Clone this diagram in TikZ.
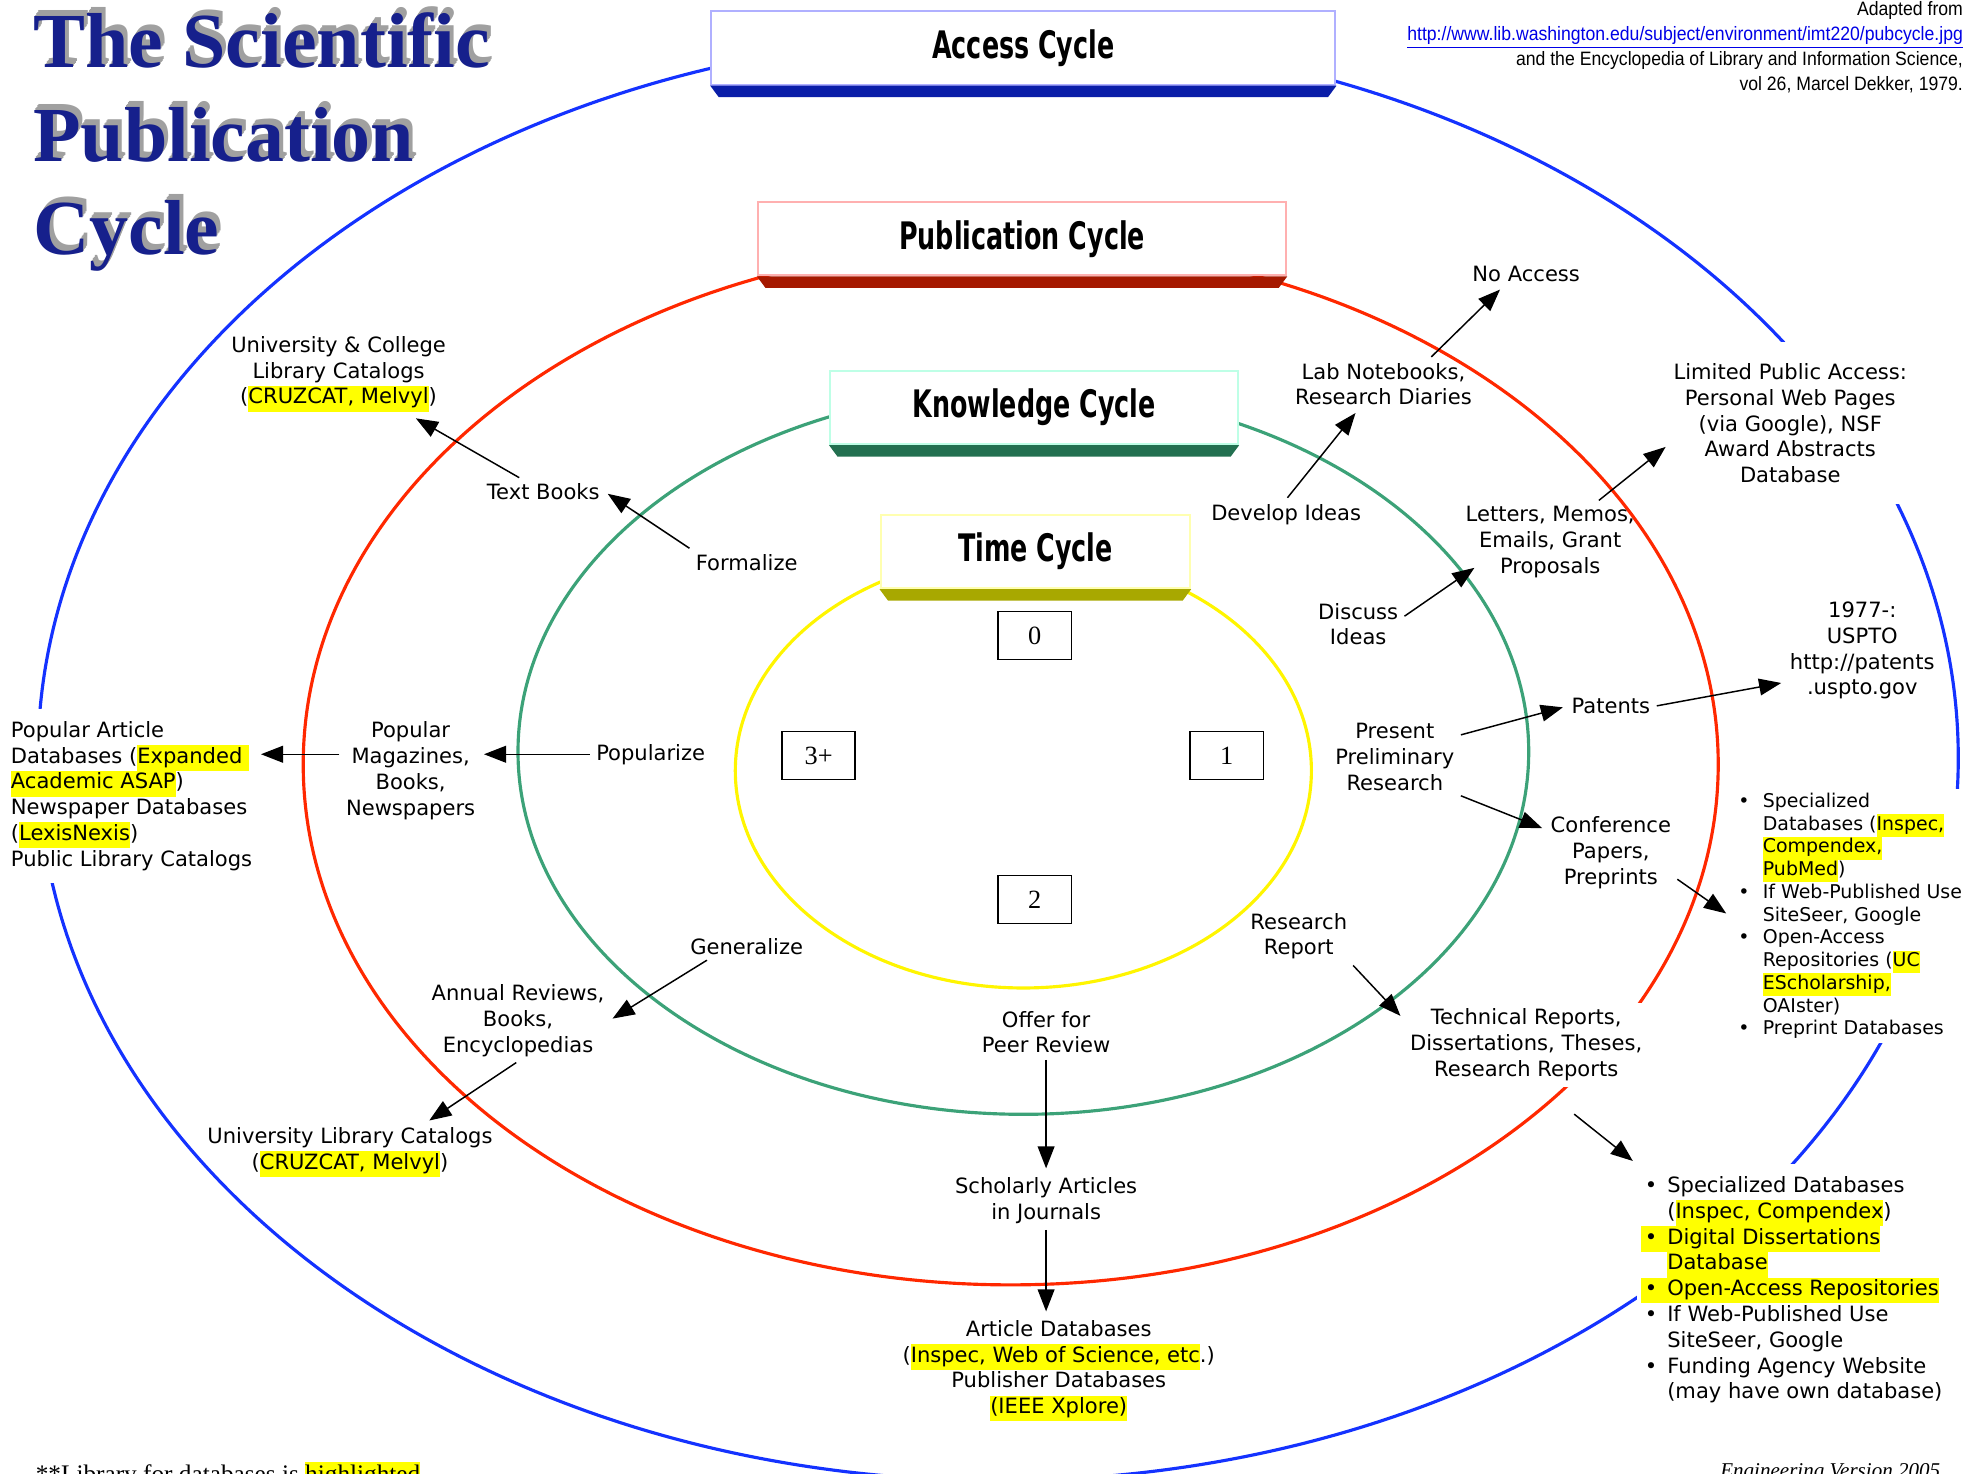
\documentclass[tikz,border=0pt]{standalone}
\usepackage{fontspec}
\setmainfont{DejaVu Sans}
\newfontfamily\timesfont{Liberation Serif}
\newfontfamily\cyclefont{DejaVu Sans}[FakeStretch=0.67]
\newfontfamily\arialfont{Liberation Sans}[FakeStretch=0.91]
\usepackage{xcolor}
\usetikzlibrary{arrows.meta, positioning}
\definecolor{accblue}{RGB}{20,50,255}
\definecolor{pubred}{RGB}{255,40,0}
\definecolor{knowgreen}{RGB}{60,162,120}
\definecolor{timeyellow}{RGB}{255,245,0}
\definecolor{accbox}{RGB}{176,176,255}
\definecolor{pubbox}{RGB}{255,176,176}
\definecolor{knowbox}{RGB}{190,255,230}
\definecolor{timebox}{RGB}{255,255,176}
\definecolor{accbar}{RGB}{10,30,168}
\definecolor{pubbar}{RGB}{165,25,0}
\definecolor{knowbar}{RGB}{35,112,80}
\definecolor{timebar}{RGB}{168,168,0}
\definecolor{hlyellow}{RGB}{255,255,0}
\definecolor{titleblue}{RGB}{22,32,140}
\definecolor{shadowgray}{RGB}{160,160,160}
\definecolor{urlblue}{RGB}{0,0,230}
\newcommand{\hlt}[1]{{\setlength{\fboxsep}{0pt}\colorbox{hlyellow}{\strut #1}}}
\newcommand{\bul}[1]{\makebox[#1][l]{\hspace{2pt}\textbullet}}
\tikzset{
    lbl/.style = {align=center, inner sep=2pt, font=\fontsize{10}{12.24}\selectfont},
    blk/.style = {lbl, fill=white},
    banner/.style = {rectangle, fill=white, line width=1pt, minimum height=34.8pt,
                     font=\cyclefont\bfseries\fontsize{18}{20}\selectfont},
    yearbox/.style = {rectangle, draw, line width=0.8pt, minimum width=34.8pt,
                      minimum height=22.8pt, font=\timesfont\fontsize{12.5}{14}\selectfont},
    ttl/.style = {align=left, inner sep=0pt, anchor=north west,
                  font=\timesfont\bfseries\fontsize{37}{44.4}\selectfont}
    }
\begin{document}
\begin{tikzpicture}[x=0.6pt, y=-0.6pt,
      > = {Triangle[length=10.5pt,width=8pt]}, % arrow head style
      every edge/.style = {draw, ->, line width=0.7pt, shorten >=2pt, shorten <=1pt}
    ]

    \useasboundingbox (0,0) rectangle (1568,1166);
    \clip (0,0) rectangle (1568,1166);

    \draw[accblue, line width=1.5pt] (790,600) ellipse [x radius=456pt, y radius=343.2pt];
    \draw[pubred, line width=1.5pt] (800,605) ellipse [x radius=336pt, y radius=247.2pt];
    \draw[knowgreen, line width=1.5pt] (810,595) ellipse [x radius=240pt, y radius=172.2pt];
    \draw[timeyellow, line width=1.5pt] (810,610) ellipse [x radius=136.8pt, y radius=103.2pt];

    \node[banner, draw=accbox, minimum width=296.4pt] (a1) at (810,38) {Access Cycle};
    \node[banner, draw=pubbox, minimum width=250.8pt] (a2) at (809,189) {Publication Cycle};
    \node[banner, draw=knowbox, minimum width=193.8pt] (a3) at (818.5,322.5) {Knowledge Cycle};
    \node[banner, draw=timebox, minimum width=147pt] (a4) at (819.5,436.5) {Time Cycle};
    \foreach \n/\c in {a1/accbar, a2/pubbar, a3/knowbar, a4/timebar}
      \fill[\c] (\n.south west) -- (\n.south east) -- ([xshift=-4pt,yshift=-5.4pt]\n.south east)
                -- ([xshift=4pt,yshift=-5.4pt]\n.south west) -- cycle;

    \node[yearbox] (t0) at (819,503) {0};
    \node[yearbox] (t1) at (971,598) {1};
    \node[yearbox] (t2) at (819,712) {2};
    \node[yearbox] (t3) at (648,598) {3+};

    \foreach \d in {4,3,2,1}
      \node[ttl, text=shadowgray] (s\d) at (26+0.8*\d, 10-1.2*\d) {The Scientific\\Publication\\Cycle};
    \node[ttl, text=titleblue] (title) at (26,10) {The Scientific\\Publication\\Cycle};

    \node[anchor=north east, align=right, inner sep=0pt,
          font=\arialfont\fontsize{9.2}{11.8}\selectfont] (src) at (1554,1)
      {Adapted from\\
       \textcolor{urlblue}{\underline{http://www.lib.washington.edu/subject/environment/imt220/pubcycle.jpg}}\\
       and the Encyclopedia of Library and Information Science,\\
       vol 26, Marcel Dekker, 1979.};

    \node[lbl] (1) at (268,296) {University \& College\\Library Catalogs\\(\hlt{CRUZCAT, Melvyl})};
    \node[lbl] (2) at (430,389) {Text Books};
    \node[lbl] (3) at (591,445) {Formalize};
    \node[blk, anchor=west, align=left, inner ysep=6pt] (4) at (5,630)
      {Popular Article\\Databases (\hlt{Expanded }\\\hlt{Academic ASAP})\\Newspaper Databases\\(\hlt{LexisNexis})\\Public Library Catalogs};
    \node[lbl] (5) at (325,610) {Popular\\Magazines,\\Books,\\Newspapers};
    \node[lbl] (6) at (515,597) {Popularize};
    \node[lbl] (7) at (591,749) {Generalize};
    \node[lbl] (8) at (410,808) {Annual Reviews,\\Books,\\Encyclopedias};
    \node[lbl] (9) at (277,912) {University Library Catalogs\\(\hlt{CRUZCAT, Melvyl})};
    \node[lbl] (10) at (828,817) {Offer for\\Peer Review};
    \node[lbl] (11) at (828,950) {Scholarly Articles\\in Journals};
    \node[lbl] (12) at (838,1085)
      {Article Databases\\(\hlt{Inspec, Web of Science, etc}.)\\Publisher Databases\\\hlt{(IEEE Xplore)}};
    \node[lbl] (13) at (1028,741) {Research\\Report};
    \node[blk, inner sep=3pt] (14) at (1208,827) {Technical Reports,\\Dissertations, Theses,\\Research Reports};
    \node[blk, anchor=north west, align=left, inner xsep=2pt, inner ysep=6pt] (15) at (1295,921)
      {\bul{12.6pt}Specialized Databases\\
       \makebox[12.6pt]{}(\hlt{Inspec, Compendex})\\
       \hlt{\bul{12.6pt}Digital Dissertations}\\
       \makebox[12.6pt]{}\hlt{Database}\\
       \hlt{\bul{12.6pt}Open-Access Repositories}\\
       \bul{12.6pt}If Web-Published Use\\
       \makebox[12.6pt]{}SiteSeer, Google\\
       \bul{12.6pt}Funding Agency Website\\
       \makebox[12.6pt]{}(may have own database)};
    \node[lbl] (16) at (1104,599) {Present\\Preliminary\\Research};
    \node[lbl] (17) at (1275,559) {Patents};
    \node[lbl] (18) at (1275,675) {Conference\\Papers,\\Preprints};
    \node[lbl] (19) at (1474,515) {1977-:\\USPTO\\http://patents\\.uspto.gov};
    \node[blk, anchor=north west, align=left, font=\fontsize{9}{10.8}\selectfont] (20) at (1369,624)
      {\bul{13.6pt}Specialized\\
       \makebox[13.6pt]{}Databases (\hlt{Inspec,}\\
       \makebox[13.6pt]{}\hlt{Compendex,}\\
       \makebox[13.6pt]{}\hlt{PubMed})\\
       \bul{13.6pt}If Web-Published Use\\
       \makebox[13.6pt]{}SiteSeer, Google\\
       \bul{13.6pt}Open-Access\\
       \makebox[13.6pt]{}Repositories (\hlt{UC}\\
       \makebox[13.6pt]{}\hlt{EScholarship,}\\
       \makebox[13.6pt]{}OAIster)\\
       \bul{13.6pt}Preprint Databases};
    \node[lbl] (21) at (1075,494) {Discuss\\Ideas};
    \node[lbl] (22) at (1227,429) {Letters, Memos,\\Emails, Grant\\Proposals};
    \node[lbl] (23) at (1018,407) {Develop Ideas};
    \node[lbl] (24) at (1095,304) {Lab Notebooks,\\Research Diaries};
    \node[lbl] (25) at (1208,217) {No Access};
    \node[blk, inner ysep=10pt] (26) at (1417,335)
      {Limited Public Access:\\Personal Web Pages\\(via Google), NSF\\Award Abstracts\\Database};

    \node[anchor=north west, inner sep=0pt, font=\timesfont\fontsize{12}{14}\selectfont] (f1) at (28,1157)
      {**Library for databases is \hlt{highlighted}};
    \node[anchor=north east, inner sep=0pt, font=\timesfont\itshape\fontsize{10}{12}\selectfont] (f2) at (1536,1158)
      {Engineering Version 2005};

    \path (2) edge (1);
    \path (3.north west) edge (2.east);
    \path (6.west) edge (6.west -| 5.east);
    \path (5.west |- 6.west) edge (4.east |- 6.west);
    \path ([xshift=-18pt]7.south) edge (8.east);
    \path (8.south) edge ([xshift=36pt]9.north);
    \path (10) edge (11);
    \path (11.south) edge (11.south |- 12.north);
    \path (13.south east) edge ([yshift=-8pt]14.north west);
    \path ([xshift=22pt,yshift=-12pt]14.south) edge (15.north west);
    \path ([yshift=-8pt]16.north east) edge (17.west);
    \path (16.south east) edge ([yshift=11pt]18.west);
    \path (17.east) edge ([yshift=-15pt]19.west);
    \path ([yshift=-12pt]18.east) edge (20.west);
    \path ([yshift=-9pt]21.north east) edge ([xshift=8pt,yshift=8pt]22.south west);
    \path ([xshift=-20pt]22.north east) edge ([yshift=-10pt]26.west);
    \path (23.north) edge ([xshift=-12pt]24.south);
    \path ([xshift=22pt]24.north) edge ([xshift=-11pt]25.south);
\end{tikzpicture}
\end{document}
